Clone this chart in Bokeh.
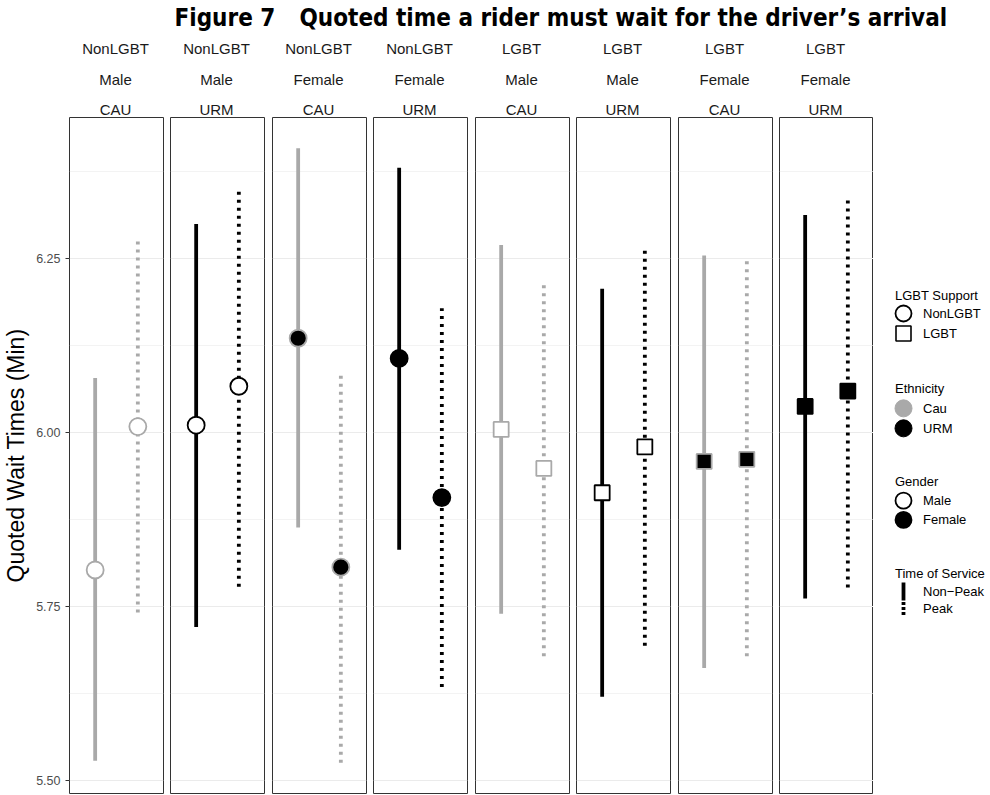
from bokeh.plotting import figure
from bokeh.layouts import row, column
from bokeh.models import Range1d, FixedTicker, PrintfTickFormatter
from bokeh.core.properties import value
from bokeh.embed import file_html
from bokeh.resources import INLINE

# ---------------- data ----------------
support = ["NonLGBT", "NonLGBT", "NonLGBT", "NonLGBT", "LGBT", "LGBT", "LGBT", "LGBT"]
gender = ["Male", "Male", "Female", "Female", "Male", "Male", "Female", "Female"]
ethnicity = ["CAU", "URM", "CAU", "URM", "CAU", "URM", "CAU", "URM"]

# Non-peak (solid) estimate and interval
est_np = [5.803, 6.011, 6.136, 6.107, 6.005, 5.914, 5.959, 6.038]
lo_np = [5.529, 5.721, 5.864, 5.832, 5.740, 5.621, 5.662, 5.762]
hi_np = [6.079, 6.300, 6.409, 6.381, 6.270, 6.207, 6.255, 6.313]
# Peak (dotted) estimate and interval
est_pk = [6.009, 6.067, 5.807, 5.907, 5.949, 5.980, 5.962, 6.060]
lo_pk = [5.742, 5.779, 5.526, 5.635, 5.679, 5.694, 5.679, 5.778]
hi_pk = [6.277, 6.353, 6.086, 6.179, 6.217, 6.265, 6.247, 6.338]

y_ticks = [5.50, 5.75, 6.00, 6.25]
y_minor = [5.625, 5.875, 6.125, 6.375]
y_label = "Quoted Wait Times (Min)"
title_left = "Figure 7"
title_right = "Quoted time a rider must wait for the driver\u2019s arrival"

legend_titles = ["LGBT Support", "Ethnicity", "Gender", "Time of Service"]
legend_labels = [["NonLGBT", "LGBT"], ["Cau", "URM"], ["Male", "Female"], ["Non\u2212Peak", "Peak"]]

# ---------------- styles / layout ----------------
GRAY = "#a9a9a9"
eth_color = {"CAU": GRAY, "URM": "black"}
gender_fill = {"Male": "white", "Female": "black"}
support_marker = {"NonLGBT": "circle", "LGBT": "square"}
marker_size = {"circle": 17, "square": 15}
FONT = "Liberation Sans"
TFONT = "DejaVu Sans Condensed"

LEFT = 68
FW = 94
FH = 676
GAPS = [7, 8, 7, 8, 7, 8, 7]
HEADER_H = 117
BOTTOM = 1
TOTAL_W = 989
DODGE = [0.273, 0.727]

all_lo = lo_np + lo_pk
all_hi = hi_np + hi_pk
span = max(all_hi) - min(all_lo)
yr = Range1d(min(all_lo) - 0.05 * span, max(all_hi) + 0.05 * span)

panels = []
for i in range(8):
    p = figure(frame_width=FW, frame_height=FH, x_range=Range1d(0, 1), y_range=yr,
               output_backend="svg", toolbar_location=None,
               x_axis_type=None, y_axis_location="left" if i == 0 else None,
               min_border_left=LEFT if i == 0 else 0,
               min_border_right=GAPS[i] if i < 7 else 0,
               min_border_top=0, min_border_bottom=BOTTOM)
    p.outline_line_color = "#333333"
    p.outline_line_width = 1
    p.background_fill_color = "white"
    p.border_fill_color = "white"
    g = p.ygrid[0]
    g.ticker = FixedTicker(ticks=y_ticks, minor_ticks=y_minor)
    g.grid_line_color = "#ebebeb"
    g.grid_line_width = 1.1
    g.minor_grid_line_color = "#ebebeb"
    g.minor_grid_line_width = 0.6

    c = eth_color[ethnicity[i]]
    p.segment(x0=DODGE[0], y0=lo_np[i], x1=DODGE[0], y1=hi_np[i],
              line_color=c, line_width=3.8, line_cap="butt")
    p.segment(x0=DODGE[1], y0=lo_pk[i], x1=DODGE[1], y1=hi_pk[i],
              line_color=c, line_width=3.8, line_dash="3 5", line_cap="butt")
    m = support_marker[support[i]]
    p.scatter(x=DODGE, y=[est_np[i], est_pk[i]], marker=m, size=marker_size[m],
              fill_color=gender_fill[gender[i]], line_color=c, line_width=1.8)

    if i == 0:
        ax = p.yaxis[0]
        ax.ticker = FixedTicker(ticks=y_ticks)
        ax.formatter = PrintfTickFormatter(format="%.2f")
        ax.axis_line_color = None
        ax.major_tick_out = 4
        ax.major_tick_in = 0
        ax.minor_tick_out = 0
        ax.minor_tick_in = 0
        ax.major_tick_line_color = "#333333"
        ax.major_label_text_font = FONT
        ax.major_label_text_font_size = "12.5px"
        ax.major_label_text_color = "#4d4d4d"
        ax.major_label_standoff = 5
        ax.axis_label = y_label
        ax.axis_label_text_font = FONT
        ax.axis_label_text_font_size = "23px"
        ax.axis_label_text_font_style = "normal"
        ax.axis_label_text_color = "black"
        ax.axis_label_standoff = 4
    panels.append(p)

# ---------------- header (title + strip labels) ----------------
hdr = figure(width=TOTAL_W, height=HEADER_H, x_range=Range1d(0, TOTAL_W),
             y_range=Range1d(HEADER_H, 0), min_border=0, output_backend="svg",
             toolbar_location=None, x_axis_type=None, y_axis_type=None)
hdr.outline_line_color = None
centers = [LEFT + FW / 2 + i * FW + sum(GAPS[:i]) for i in range(8)]
for labels, yy in ((support, 48), (gender, 79), (ethnicity, 109)):
    hdr.text(x=centers, y=[yy] * 8, text=labels, text_align="center",
             text_baseline="middle", text_font=value(FONT), text_font_size="15px",
             text_color="#1a1a1a")
hdr.text(x=[174], y=[17], text=[title_left], text_align="left", text_baseline="middle",
         text_font=value(TFONT), text_font_style="bold",
         text_font_size="24px", text_color="black")
hdr.text(x=[299], y=[17], text=[title_right], text_align="left", text_baseline="middle",
         text_font=value(TFONT), text_font_style="bold",
         text_font_size="24px", text_color="black")

# ---------------- legend ----------------
used = LEFT + 8 * FW + sum(GAPS)
LW = TOTAL_W - used
LH = FH + BOTTOM
leg = figure(width=LW, height=LH, x_range=Range1d(0, LW), y_range=Range1d(LH, 0),
             min_border=0, output_backend="svg", toolbar_location=None,
             x_axis_type=None, y_axis_type=None)
leg.outline_line_color = None
group_top = [178, 271.3, 364.7, 456.3]
item_off = [[18.3, 38.3], [20, 40], [19, 38.3], [18.4, 35]]
KX, TX, LX = 30, 21.5, 49.5
for gi, ttl in enumerate(legend_titles):
    leg.text(x=[TX], y=[group_top[gi]], text=[ttl], text_align="left", text_baseline="middle",
             text_font=value(FONT), text_font_size="13px", text_color="black")
    ys = [group_top[gi] + o for o in item_off[gi]]
    leg.text(x=[LX, LX], y=ys, text=legend_labels[gi], text_align="left", text_baseline="middle",
             text_font=value(FONT), text_font_size="13px", text_color="black")
    if gi == 0:
        leg.scatter(x=[KX], y=[ys[0]], marker="circle", size=16, fill_color="white",
                    line_color="black", line_width=1.8)
        leg.scatter(x=[KX], y=[ys[1]], marker="square", size=15, fill_color="white",
                    line_color="black", line_width=1.6)
    elif gi == 1:
        leg.scatter(x=[KX, KX], y=ys, marker="circle", size=17,
                    fill_color=[GRAY, "black"], line_color=[GRAY, "black"], line_width=1)
    elif gi == 2:
        leg.scatter(x=[KX, KX], y=ys, marker="circle", size=16,
                    fill_color=["white", "black"], line_color="black", line_width=1.8)
    else:
        leg.segment(x0=[KX], y0=[ys[0] - 9], x1=[KX], y1=[ys[0] + 9],
                    line_color="black", line_width=3.8, line_cap="butt")
        leg.segment(x0=[KX], y0=[ys[1] - 6], x1=[KX], y1=[ys[1] + 7],
                    line_color="black", line_width=3.8, line_dash="3 2", line_cap="butt")

layout = column(hdr, row(*panels, leg))
open("out.html", "w").write(file_html(layout, INLINE))
